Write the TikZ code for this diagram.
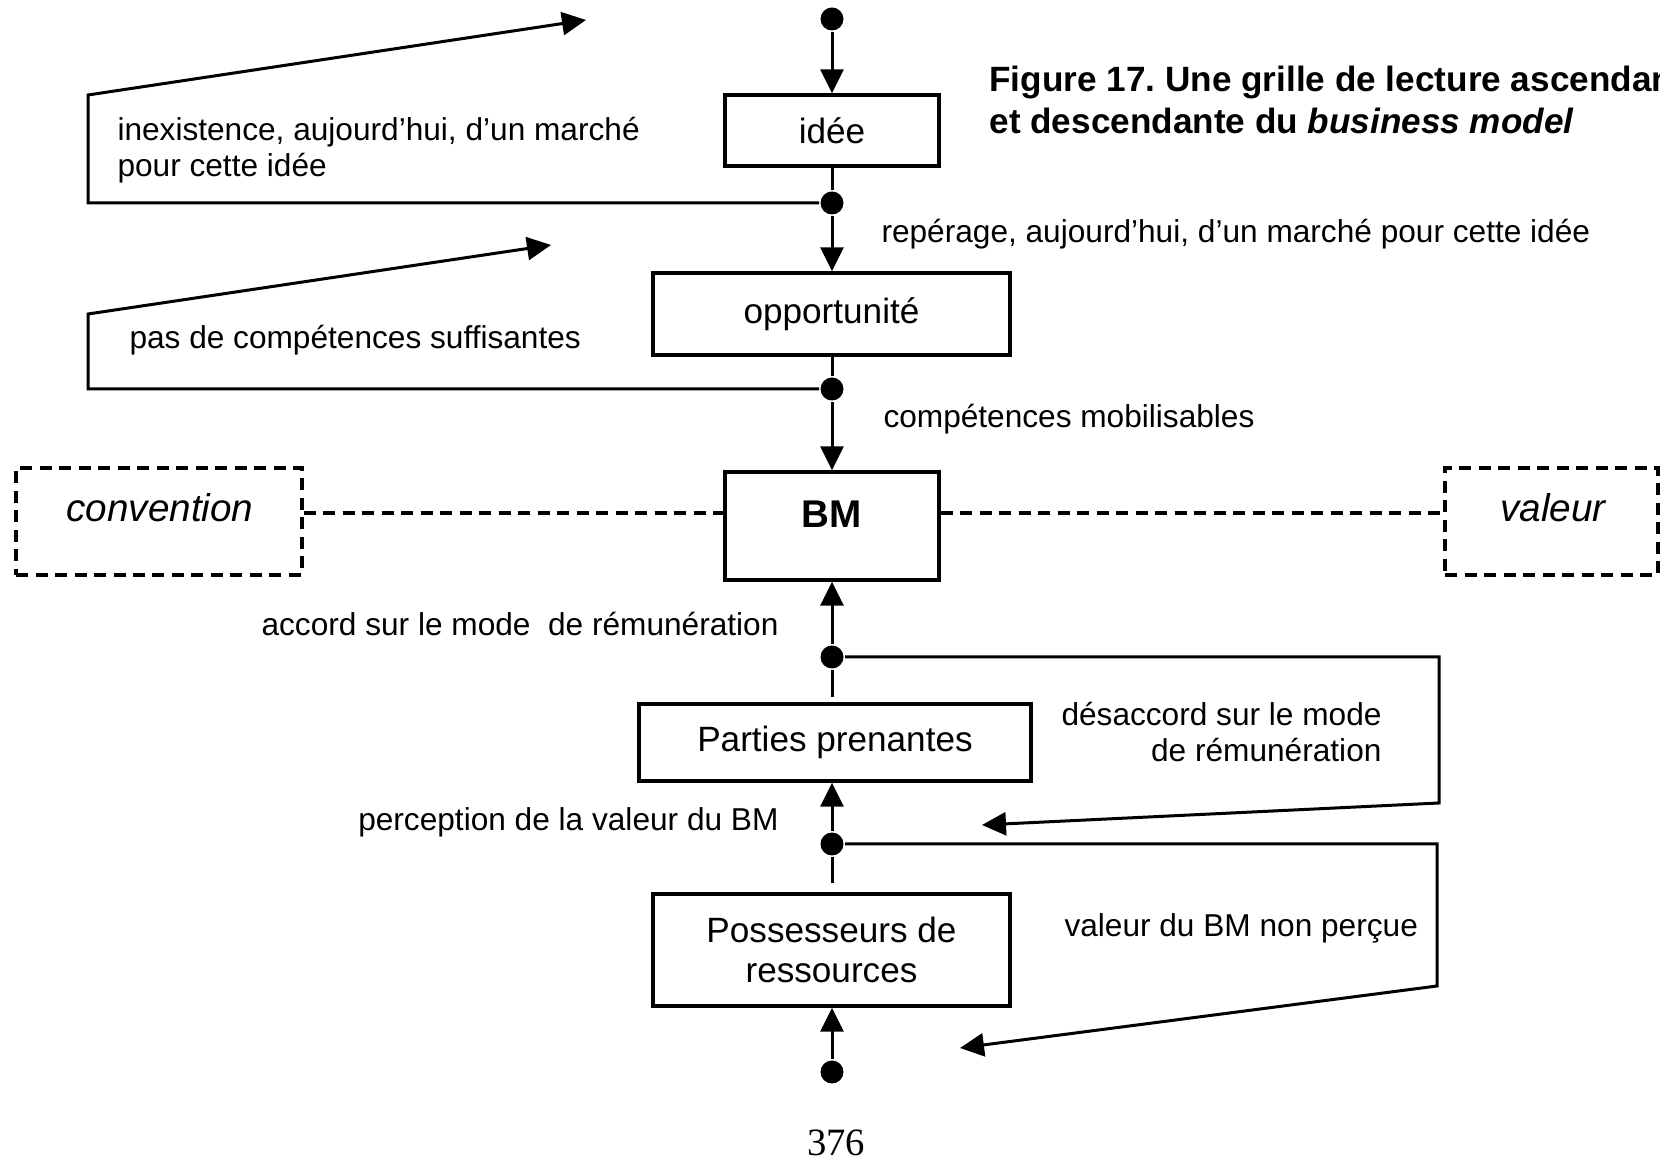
\documentclass[tikz,border=0pt]{standalone}
\usepackage{fontspec}
\setmainfont{Liberation Sans}
\newfontfamily\pagenumfont{Liberation Serif}
\usetikzlibrary{arrows.meta}
\begin{document}
\frenchspacing
\begin{tikzpicture}[x=0.1mm, y=-0.1mm,
  line width=0.3mm,
  every node/.style={inner sep=0pt},
  stepbox/.style={draw, line width=0.33mm, rectangle, align=center,
    font=\fontsize{10}{11.4}\selectfont},
  themebox/.style={draw, line width=0.33mm, dash pattern=on 1.2mm off 0.75mm, rectangle},
  dot/.style={circle, fill=black, minimum size=2.3mm},
  lab/.style={font=\fontsize{9}{10.3}\selectfont},
  arr/.style={-{Triangle[length=2.4mm,width=2.3mm]}},
  link/.style={line width=0.33mm, dash pattern=on 1.2mm off 0.75mm}
]
\useasboundingbox (0,0) rectangle (1660,1160);
\clip (0,0) rectangle (1660,1160);

% main chain of stages
\node[stepbox, minimum width=21.4mm, minimum height=7.1mm] (idee) at (832,130.5) {idée};
\node[stepbox, minimum width=35.7mm, minimum height=8.2mm] (opp) at (831.5,314) {opportunité};
\node[stepbox, minimum width=21.4mm, minimum height=10.8mm] (bm) at (832,526) {};
\node[font=\bfseries\fontsize{11}{13}\selectfont] (bmtxt) at (832,514) {BM};
\node[stepbox, minimum width=39.2mm, minimum height=7.7mm] (pp) at (835,742.5) {Parties prenantes};
\node[stepbox, minimum width=35.7mm, minimum height=11.2mm] (poss) at (831.5,950) {Possesseurs de\\ressources};

% side themes
\node[themebox, minimum width=28.6mm, minimum height=10.7mm] (conv) at (159,521.5) {};
\node[font=\itshape\fontsize{11}{13}\selectfont] (convtxt) at (160,508) {convention};
\node[themebox, minimum width=21.3mm, minimum height=10.7mm] (val) at (1551.5,521.5) {};
\node[font=\itshape\fontsize{11}{13}\selectfont] (valtxt) at (1553,508) {valeur};
\draw[link] (conv.east |- 0,513) -- (bm.west |- 0,513);
\draw[link] (bm.east |- 0,513) -- (val.west |- 0,513);

% branching points
\node[dot] (d0) at (832,19) {};
\node[dot] (d1) at (832,203) {};
\node[dot] (d2) at (832,389) {};
\node[dot] (d3) at (832,657) {};
\node[dot] (d4) at (832,844) {};
\node[dot] (d5) at (832,1072) {};

% descending path
\draw[arr] (d0) -- (d0 |- idee.north);
\draw (d1 |- idee.south) -- (d1);
\draw[arr] (d1) -- (d1 |- opp.north);
\draw (d2 |- opp.south) -- (d2);
\draw[arr] (d2) -- (d2 |- bm.north);

% ascending path
\coordinate (g1) at (832,697);
\coordinate (g2) at (832,883);
\draw[arr] (d3) -- (d3 |- bm.south);
\draw (d3) -- (g1);
\draw[arr] (d4) -- (d4 |- pp.south);
\draw (d4) -- (g2);
\draw[arr] (d5) -- (d5 |- poss.south);

% rejection loops
\coordinate (t1) at (586,20);
\coordinate (t2) at (551,245);
\coordinate (t3) at (982,825);
\coordinate (t4) at (960,1048);
\draw[arr] (d1) -- (88,203) -- (88,95) -- (t1);
\draw[arr] (d2) -- (88,389) -- (88,314) -- (t2);
\draw[arr] (d3) -- (1439,657) -- (1439,803) -- (t3);
\draw[arr] (d4) -- (1437,844) -- (1437,986) -- (t4);

% labels
\node[lab, anchor=west, align=left] (l1) at (116,150) {inexistence, aujourd’hui, d’un marché\\pour cette idée};
\node[lab, anchor=west] (l2) at (880,234) {repérage, aujourd’hui, d’un marché pour cette idée};
\node[lab, anchor=west] (l3) at (128,340) {pas de compétences suffisantes};
\node[lab, anchor=west] (l4) at (882,419) {compétences mobilisables};
\node[lab, anchor=east] (l5) at (780,624) {accord sur le mode\ \ de rémunération};
\node[lab, anchor=east, align=right] (l6) at (1383,732) {désaccord sur le mode\\de rémunération};
\node[lab, anchor=east] (l7) at (780,822) {perception de la valeur du BM};
\node[lab, anchor=west] (l8) at (1063,928) {valeur du BM non perçue};

% title and page number
\node[anchor=west, align=left, font=\bfseries\fontsize{10}{11.9}\selectfont] (title) at (988,100)
  {Figure 17. Une grille de lecture ascendante\\et descendante du \textit{business model}};
\node[font=\pagenumfont\fontsize{11}{13}\selectfont] (pg) at (836,1143) {376};
\end{tikzpicture}
\end{document}
